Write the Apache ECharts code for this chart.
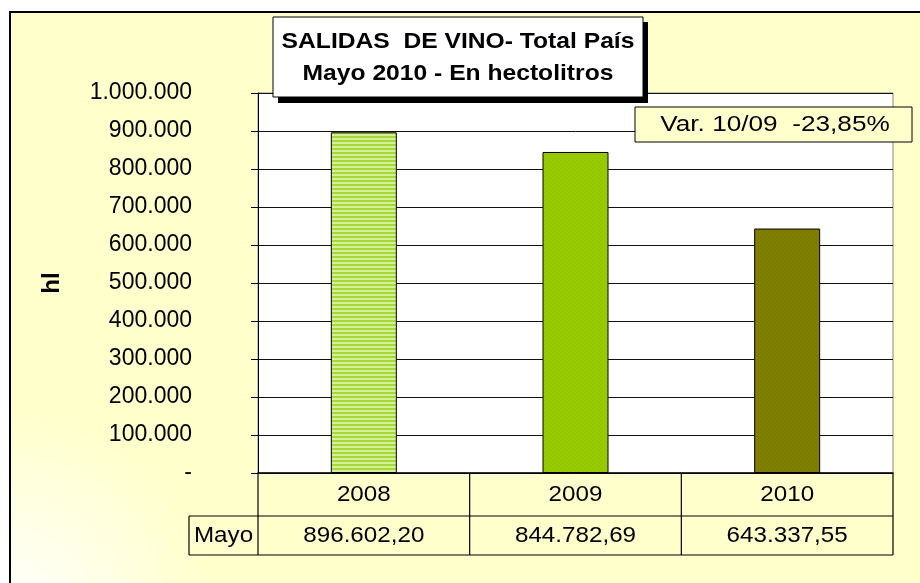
<!DOCTYPE html>
<html>
<head>
<meta charset="utf-8">
<title>Salidas de vino</title>
<script src="https://cdn.jsdelivr.net/npm/echarts@6/dist/echarts.min.js"></script>
<style>
  html, body { margin: 0; padding: 0; background: #fff; }
  #chart { width: 920px; height: 583px; }
</style>
</head>
<body>
<div id="chart"></div>
<script>
// datos
var years = ['2008', '2009', '2010'];
var mayo = [896602.20, 844782.69, 643337.55];
var rowLabel = 'Mayo';
var titleLines = ['SALIDAS  DE VINO- Total País', 'Mayo 2010 - En hectolitros'];
var yName = 'hl';
var barColors = ['#CCEE88', '#99CC00', '#808000'];

var FONT = '"Liberation Sans", Arial, sans-serif';

function fmt(v, dec) {
  var s = v.toFixed(dec);
  var parts = s.split('.');
  var ent = parts[0].replace(/\B(?=(\d{3})+(?!\d))/g, '.');
  return dec ? ent + ',' + parts[1] : ent;
}

// variacion 10/09
var varPct = (mayo[2] / mayo[1] - 1) * 100;
var varText = 'Var. 10/09  ' + varPct.toFixed(2).replace('.', ',') + '%';

// patrones de relleno (rayado 2008, punteado 2009/2010)
function stripes() {
  var c = document.createElement('canvas');
  c.width = 4; c.height = 4;
  var ctx = c.getContext('2d');
  ctx.fillStyle = '#D4F09A';
  ctx.fillRect(0, 0, 4, 4);
  ctx.fillStyle = '#A8D838';
  ctx.fillRect(0, 0, 4, 2);
  return c;
}
function dots(base, dot) {
  var c = document.createElement('canvas');
  c.width = 4; c.height = 4;
  var ctx = c.getContext('2d');
  ctx.fillStyle = base;
  ctx.fillRect(0, 0, 4, 4);
  ctx.fillStyle = dot;
  ctx.fillRect(0, 0, 1, 1);
  ctx.fillRect(2, 2, 1, 1);
  return c;
}
var fills = [
  { image: stripes(), repeat: 'repeat' },
  { image: dots(barColors[1], '#8CBB00'), repeat: 'repeat' },
  { image: dots(barColors[2], '#737300'), repeat: 'repeat' }
];

var gLeft = 258, gRight = 893, gTop = 93, gBottom = 473;

var chart = echarts.init(document.getElementById('chart'));

var option = {
  backgroundColor: '#fff',
  animation: false,
  grid: {
    left: gLeft, right: 920 - gRight, top: gTop, bottom: 583 - gBottom,
    show: true, backgroundColor: '#fff', borderColor: '#8a8a8a', borderWidth: 1
  },
  xAxis: {
    type: 'category',
    data: years,
    axisLine: { show: true, lineStyle: { color: '#000', width: 1.5 } },
    axisTick: { show: false },
    axisLabel: { show: false }
  },
  yAxis: {
    type: 'value',
    min: 0, max: 1000000, interval: 100000,
    axisLine: { show: true, lineStyle: { color: '#000', width: 1 } },
    axisTick: { show: true, inside: false, length: 7, lineStyle: { color: '#000' } },
    axisLabel: {
      margin: 66,
      color: '#000',
      fontFamily: FONT,
      fontSize: 23,
      formatter: function (v) { return v === 0 ? '-' : fmt(v, 0); }
    },
    splitLine: { show: true, lineStyle: { color: '#111', width: 1 } }
  },
  series: [{
    type: 'bar',
    barWidth: 66,
    data: mayo.map(function (v, i) {
      return {
        value: v,
        itemStyle: { color: fills[i], borderColor: '#000', borderWidth: 1 }
      };
    })
  }]
};
chart.setOption(option);

// elementos graficos: marco, titulo, caja de variacion, tabla
var els = [];
els.push({
  type: 'rect', z: -10, silent: true,
  shape: { x: 10, y: 12, width: 940, height: 600 },
  style: {
    fill: {
      type: 'radial', x: 0, y: 1, r: 0.75,
      colorStops: [{ offset: 0, color: '#ffffff' }, { offset: 0.45, color: '#FFFFCC' }, { offset: 1, color: '#FFFFCC' }]
    },
    stroke: '#000', lineWidth: 2
  }
});

// titulo con sombra
els.push({
  type: 'rect', z: 10,
  shape: { x: 278, y: 22, width: 370, height: 81 },
  style: { fill: '#000' }
});
els.push({
  type: 'rect', z: 11,
  shape: { x: 273, y: 17, width: 370, height: 80 },
  style: { fill: '#fff', stroke: '#000', lineWidth: 1 }
});
titleLines.forEach(function (t, i) {
  els.push({
    type: 'text', z: 12,
    x: 458, y: 42 + i * 32, scaleX: 1.12,
    style: {
      text: t, fill: '#000', font: 'bold 22px ' + FONT,
      align: 'center', verticalAlign: 'middle'
    }
  });
});

// caja de variacion
els.push({
  type: 'rect', z: 10,
  shape: { x: 635, y: 107, width: 277, height: 35 },
  style: { fill: '#FFFFCC', stroke: '#000', lineWidth: 1 }
});
els.push({
  type: 'text', z: 11,
  x: 775, y: 125, scaleX: 1.19,
  style: { text: varText, fill: '#000', font: '22px ' + FONT, align: 'center', verticalAlign: 'middle' }
});

// nombre del eje
els.push({
  type: 'text', z: 10,
  x: 52, y: 283, rotation: Math.PI / 2,
  style: { text: yName, fill: '#000', font: 'bold 24px ' + FONT, align: 'center', verticalAlign: 'middle' }
});

// tabla de datos
var row1 = gBottom, row2 = 516, row3 = 555, mayoLeft = 189;
var lineStyle = { stroke: '#000', lineWidth: 1.2 };
function hline(x1, x2, y) {
  els.push({ type: 'line', z: 5, shape: { x1: x1, y1: y, x2: x2, y2: y }, style: lineStyle });
}
function vline(x, y1, y2) {
  els.push({ type: 'line', z: 5, shape: { x1: x, y1: y1, x2: x, y2: y2 }, style: lineStyle });
}
hline(mayoLeft, gRight, row2);
hline(mayoLeft, gRight, row3);
vline(mayoLeft, row2, row3);
var catW = (gRight - gLeft) / years.length;
for (var k = 0; k <= years.length; k++) {
  vline(gLeft + k * catW, row1, row3);
}
function cellText(txt, x, y) {
  els.push({
    type: 'text', z: 6, x: x, y: y, scaleX: 1.1,
    style: { text: txt, fill: '#000', font: '22px ' + FONT, align: 'center', verticalAlign: 'middle' }
  });
}
years.forEach(function (y, i) {
  var cx = chart.convertToPixel({ xAxisIndex: 0 }, y);
  cellText(y, cx, (row1 + row2) / 2);
  cellText(fmt(mayo[i], 2), cx, (row2 + row3) / 2);
});
cellText(rowLabel, (mayoLeft + gLeft) / 2, (row2 + row3) / 2);

chart.setOption({ graphic: { elements: els } });
window.addEventListener('resize', function () { chart.resize(); });
</script>
</body>
</html>
